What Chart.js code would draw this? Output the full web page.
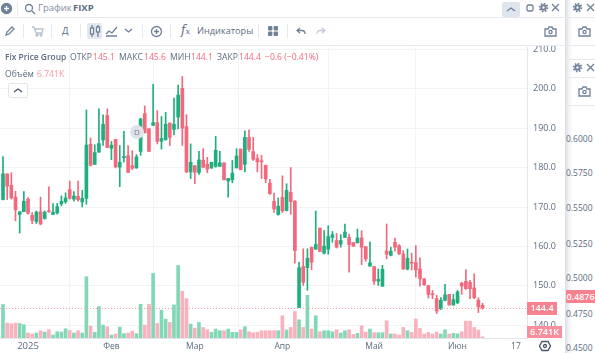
<!DOCTYPE html>
<html>
<head>
<meta charset="utf-8">
<script src="https://cdn.jsdelivr.net/npm/chart.js@4"></script>
<style>
  html, body { margin: 0; padding: 0; background: #fff; }
  body { width: 595px; height: 353px; overflow: hidden; position: relative; font-family: "Open Sans", sans-serif; color: #5c6b7f; }
  #myChart { position: absolute; left: 0; top: 0; }
  .t { position: absolute; white-space: nowrap; font-size: 8.6px; line-height: 12px; }
  .bar { position: absolute; background: #fff; left: 0; width: 565px; }
  .line { position: absolute; background: #e6e9ef; }
  svg { position: absolute; fill: none; stroke: #6f8198; stroke-width: 1.3; }
  .r { color: #f0697c; }
  #back { position: absolute; left: 565px; top: 0; width: 30px; height: 353px; background: linear-gradient(90deg, #d9dde3 0, #f3f4f6 4px, #fff 8px); }
</style>
</head>
<body>
<canvas id="myChart" width="565" height="353"></canvas>

<div id="back"></div>
<div class="line" style="left:565px;top:17px;width:30px;height:1px"></div>
<div class="line" style="left:565px;top:45px;width:30px;height:1px"></div>
<div class="line" style="left:565px;top:59px;width:30px;height:1px"></div>
<div class="line" style="left:565px;top:77px;width:30px;height:1px"></div>
<div class="line" style="left:565px;top:105px;width:30px;height:1px"></div>

<div class="bar" style="top:0;height:45px"></div>
<div class="line" style="left:0;top:17px;width:565px;height:1px"></div>
<div class="line" style="left:0;top:45px;width:565px;height:1px"></div>
<div class="line" style="left:17px;top:1px;width:1px;height:15px"></div>
<div class="line" style="left:23px;top:24px;width:1px;height:14px"></div>
<div class="line" style="left:51px;top:24px;width:1px;height:14px"></div>
<div class="line" style="left:80px;top:24px;width:1px;height:14px"></div>
<div class="line" style="left:142px;top:24px;width:1px;height:14px"></div>
<div class="line" style="left:170px;top:24px;width:1px;height:14px"></div>
<div class="line" style="left:258px;top:24px;width:1px;height:14px"></div>
<div class="line" style="left:287px;top:24px;width:1px;height:14px"></div>
<div style="position:absolute;left:87px;top:23px;width:15px;height:16px;background:#e4e9f1;border-radius:2px"></div>
<div style="position:absolute;left:502px;top:2px;width:18px;height:15px;background:#dfe5ee;border-radius:2px"></div>

<div class="t" style="left:38px;top:2px;font-size:9.5px;color:#7f8ea3">График</div>
<div class="t" style="left:73px;top:2px;font-size:9.5px;font-weight:700">FIXP</div>
<div class="t" style="left:62px;top:25px;font-size:9.5px">Д</div>
<div class="t" style="left:197px;top:25px;font-size:9.2px">Индикаторы</div>
<div class="t" style="left:181px;top:24px;font-size:12px;font-style:italic;font-family:'DejaVu Serif',serif">f<span style="font-size:8px">x</span></div>

<svg style="left:0;top:2px" width="13" height="13" viewBox="0 0 13 13"><circle cx="6.5" cy="6.5" r="5" fill="#6f8198"/><path d="M6.5 4v5M4 6.5h5" stroke="#fff"/></svg>
<svg style="left:24px;top:3px" width="12" height="12" viewBox="0 0 12 12"><circle cx="5" cy="5" r="3.5"/><path d="M8 8l3 3"/></svg>
<svg style="left:4px;top:25px" width="12" height="12" viewBox="0 0 12 12"><path d="M2 10l1-3 5-5 2 2-5 5z"/></svg>
<svg style="left:31px;top:25px" width="13" height="12" viewBox="0 0 13 12"><path d="M1 2h2l2 6h6l1-4H4" stroke="#b8c3d0"/><circle cx="6" cy="10" r="1" stroke="#b8c3d0"/><circle cx="10" cy="10" r="1" stroke="#b8c3d0"/></svg>
<svg style="left:89px;top:24px" width="12" height="14" viewBox="0 0 12 14"><path d="M3 1v12M9 1v12"/><rect x="1.5" y="4" width="3" height="6" fill="#fff"/><rect x="7.5" y="3" width="3" height="5" fill="#fff"/></svg>
<svg style="left:105px;top:25px" width="13" height="12" viewBox="0 0 13 12"><path d="M1 9l3-3 3 2 5-6M1 11h11"/></svg>
<svg style="left:124px;top:28px" width="9" height="6" viewBox="0 0 9 6"><path d="M1 1l3.5 3L8 1"/></svg>
<svg style="left:150px;top:25px" width="13" height="13" viewBox="0 0 13 13"><circle cx="6.5" cy="6.5" r="5"/><path d="M6.5 4v5M4 6.5h5"/></svg>
<svg style="left:267px;top:25px" width="12" height="12" viewBox="0 0 12 12"><g fill="#6f8198" stroke="none"><rect x="1" y="1" width="4.4" height="4.4" rx="1"/><rect x="6.6" y="1" width="4.4" height="4.4" rx="1"/><rect x="1" y="6.6" width="4.4" height="4.4" rx="1"/><rect x="6.6" y="6.6" width="4.4" height="4.4" rx="1"/></g></svg>
<svg style="left:296px;top:27px" width="10" height="8" viewBox="0 0 10 8"><path d="M4 1L1 3.5 4 6M1 3.5h5q3 0 3 3.5"/></svg>
<svg style="left:316px;top:27px" width="10" height="8" viewBox="0 0 10 8"><path d="M6 1l3 2.5L6 6M9 3.5H4Q1 3.5 1 7" stroke="#c2ccd8"/></svg>
<svg style="left:506px;top:6px" width="10" height="7" viewBox="0 0 10 7"><path d="M1 5l4-3 4 3"/></svg>
<svg style="left:526px;top:4px" width="8" height="8" viewBox="0 0 8 8"><rect x="1" y="1" width="6" height="6" rx="1.5"/></svg>

<div id="icons"></div>

<div class="t" style="left:5px;top:51px;font-weight:600;font-size:8.4px">Fix Price Group</div>
<div class="t" style="left:70px;top:51px">ОТКР</div><div class="t r" style="left:93px;top:51px">145.1</div>
<div class="t" style="left:119px;top:51px">МАКС</div><div class="t r" style="left:144px;top:51px">145.6</div>
<div class="t" style="left:170px;top:51px">МИН</div><div class="t r" style="left:191px;top:51px">144.1</div>
<div class="t" style="left:217px;top:51px">ЗАКР</div><div class="t r" style="left:239px;top:51px">144.4</div>
<div class="t r" style="left:265px;top:51px">−0.6 (−0.41%)</div>
<div class="t" style="left:5px;top:68px">Объём</div><div class="t" style="left:37px;top:68px;color:#f59aa6">6.741K</div>
<div style="position:absolute;left:8px;top:83px;width:18px;height:13px;border:1px solid #e3e6ec;border-radius:2px;background:#fff"></div>
<svg style="left:13px;top:87px" width="10" height="6" viewBox="0 0 10 6"><path d="M1 5l4-3 4 3" stroke="#4a5568"/></svg>
<div style="position:absolute;left:130px;top:125px;width:14px;height:14px;border-radius:7px;background:#dfe3e9;font-size:8px;line-height:14px;text-align:center;color:#6f7d8f">D</div>

<div id="side"></div>
<div style="position:absolute;left:566px;top:290px;width:29px;height:13px;background:#f7828f;color:#fff;font-size:9px;line-height:13px;font-weight:600;text-align:center">0.4876</div>
<svg style="left:539px;top:340px" width="12" height="12" viewBox="0 0 12 12"><path d="M3 1.5h6L11.5 6 9 10.5H3L.5 6z" stroke="#4a5568"/><circle cx="6" cy="6" r="1.5" stroke="#4a5568"/></svg>

<script>
const opens = [171.9,178.4,175.5,172.5,168.1,168.8,172.0,167.9,166.3,168.8,
  167.1,169.0,168.1,168.5,170.8,171.3,174.4,172.0,172.7,171.3,
  172.2,185.9,180.8,183.9,187.0,193.2,184.9,187.15,180.1,182.5,
  183.0,180.5,179.9,184.1,193.7,189.85,190.7,191.4,186.65,187.1,
  191.3,189.7,192.8,200.1,190.4,178.9,180.5,178.75,181.85,180.85,
  179.85,180.3,180.3,181.2,176.6,176.9,179.9,184.7,180.8,187.65,
  184.05,182.3,181.6,180.6,176.05,171.45,168.1,172.45,169.1,173.7,
  171.5,144.5,154.9,154.6,159.8,159.3,164.65,158.3,159.3,162.3,
  161.5,160.6,162.3,162.3,161.05,160.9,162.15,159.95,155.0,154.9,
  151.2,149.9,158.85,157.75,161.05,160.2,158.1,154.25,155.9,155.9,
  154.3,151.8,150.1,147.95,146.75,144.15,146.35,147.85,145.15,145.7,
  150.7,151.15,150.9,149.45,146.35,145.1];
const closes = [178.4,175.3,172.3,169.3,168.8,171.45,168.4,166.6,168.7,165.7,
  168.7,168.8,168.7,170.1,171.45,172.3,172.2,172.8,171.8,172.2,
  185.7,180.6,183.8,186.1,191.0,185.1,185.7,180.2,181.35,182.8,
  178.8,179.85,182.7,192.3,188.85,184.1,191.4,186.65,187.4,191.0,
  187.65,191.0,198.4,190.0,178.9,181.35,178.8,181.95,180.1,179.6,
  181.35,184.4,181.2,176.9,177.25,178.6,182.95,179.45,187.65,184.6,
  182.1,181.45,181.45,177.1,173.4,169.5,170.2,169.0,174.2,171.35,
  158.95,154.6,150.9,157.0,156.0,160.5,158.7,160.1,162.5,163.0,
  159.8,161.5,163.65,160.45,160.05,162.15,159.8,156.85,155.85,151.2,
  151.7,154.2,158.0,158.8,159.8,158.1,154.3,157.0,155.75,154.05,
  151.8,150.3,147.85,147.75,143.65,146.35,147.7,145.15,146.5,148.45,
  149.95,149.3,149.3,147.0,144.65,144.4];
const highs = [182.8,178.4,178.7,174.0,168.8,173.9,172.4,168.6,169.0,172.5,
  169.0,175.1,170.9,170.9,172.8,173.6,176.6,173.9,176.6,174.2,
  194.6,187.5,185.8,194.9,193.4,194.9,186.6,187.15,185.6,189.2,
  185.6,184.3,183.3,192.5,195.6,189.85,201.1,194.45,192.95,194.0,
  191.3,197.6,200.9,203.1,193.4,186.0,180.5,184.1,184.8,182.6,
  181.35,187.9,184.1,181.2,177.25,181.8,184.8,184.7,189.35,189.6,
  187.65,183.3,183.1,180.6,177.0,173.55,172.3,177.9,175.9,180.0,
  171.6,156.0,159.4,159.4,159.8,169.0,164.65,164.0,165.25,163.8,
  163.3,163.0,165.7,163.15,161.05,164.4,164.0,159.95,161.2,154.9,
  154.3,155.2,165.7,159.8,162.1,160.45,158.95,159.35,158.3,160.2,
  157.1,151.8,150.1,148.85,147.6,147.0,150.4,147.85,147.85,148.85,
  150.95,154.15,151.4,153.05,147.0,145.6];
const lows = [171.8,171.9,172.0,166.5,163.4,168.8,168.2,165.8,165.8,165.5,
  166.9,168.6,168.1,168.2,170.3,170.9,172.0,171.5,171.5,170.0,
  170.7,180.35,180.8,183.9,185.6,185.1,182.0,179.9,175.15,181.4,
  178.7,179.5,179.8,183.1,188.75,184.1,190.7,186.0,184.7,186.9,
  185.6,188.3,189.8,185.6,178.7,177.2,175.9,178.25,179.9,178.7,
  179.85,180.1,180.3,176.9,172.5,176.15,179.9,179.45,178.9,184.1,
  181.8,178.9,177.2,176.15,173.2,168.6,167.9,168.6,169.0,168.2,
  155.75,144.5,150.1,148.9,154.1,159.3,158.7,158.1,158.0,161.05,
  159.6,159.8,162.3,153.5,160.05,160.9,155.4,156.25,155.0,150.4,
  150.1,149.9,156.85,157.6,158.8,157.95,154.15,154.05,154.05,152.2,
  149.9,150.1,146.9,146.75,143.0,144.0,146.2,145.15,145.1,145.5,
  147.85,149.1,146.75,146.75,143.25,144.1];
// thousands of shares
const volumes = [202,90,86,90,88,80,30,24,30,44,
  36,50,18,38,36,56,46,30,44,30,
  370,72,34,190,78,68,18,24,66,26,
  30,42,26,204,78,204,390,88,168,114,
  94,200,438,282,238,84,60,94,64,50,
  34,54,44,44,54,34,34,50,68,38,
  32,34,44,44,44,44,44,134,48,64,
  160,110,64,258,54,134,38,44,44,38,
  50,30,44,50,22,28,74,36,54,32,
  32,32,104,24,24,18,64,44,34,114,
  58,24,34,24,36,24,50,24,28,26,
  38,102,102,64,48,6.741];

const priceTicks = [140,150,160,170,180,190,200,210];
const dateTicks = [6,26,46,67,89,109,123];
const dateLabels = ['2025','Фев','Мар','Апр','Май','Июн','17'];
const sideTicks = [['0.6000',139],['0.5750',173],['0.5500',208],['0.5250',244],['0.5000',278],['0.4750',314],['0.4500',348]];

const GREEN = '#1fae7e', RED = '#f2697d';
const GREEN_V = '#82d8b6', RED_V = '#f9b2bd';
const isUp = opens.map((o, i) => closes[i] >= o);
const idx = opens.map((_, i) => i);

// icons and tick labels of the panels behind
const gear = (x, y) => `<svg style="left:${x}px;top:${y}px" width="11" height="11" viewBox="0 0 11 11"><circle cx="5.5" cy="5.5" r="2.2" stroke-width="2"/><circle cx="5.5" cy="5.5" r="4" stroke-dasharray="1.6 1.5" stroke-width="1.6"/></svg>`;
const cross = (x, y) => `<svg style="left:${x}px;top:${y}px" width="9" height="9" viewBox="0 0 9 9"><path d="M1 1l7 7M8 1L1 8"/></svg>`;
const camera = (x, y) => `<svg style="left:${x}px;top:${y}px" width="13" height="11" viewBox="0 0 13 11"><path d="M1 3h3l1-2h3l1 2h3v7H1z"/><circle cx="6.5" cy="6" r="1.6"/></svg>`;
document.getElementById('icons').innerHTML =
  gear(538, 2) + cross(551, 3) + camera(544, 26) +
  gear(572, 2) + cross(586, 3) + camera(578, 26) +
  gear(572, 62) + cross(586, 63) + camera(578, 86);
document.getElementById('side').innerHTML = sideTicks
  .map(([s, y]) => `<div class="t" style="left:566px;top:${y - 6}px;font-size:8.5px">${s}</div>`).join('');

const priceMarks = {
  id: 'priceMarks',
  afterDatasetsDraw(chart) {
    const { ctx, chartArea, scales } = chart;
    const y = Math.round(scales.y.getPixelForValue(closes[closes.length - 1])) + 0.5;
    ctx.save();
    ctx.strokeStyle = '#f59aa6';
    ctx.lineWidth = 1;
    ctx.setLineDash([1, 2]);
    ctx.beginPath();
    ctx.moveTo(chartArea.left, y);
    ctx.lineTo(chartArea.right, y);
    ctx.stroke();
    ctx.restore();
  },
  afterDraw(chart) {
    const { ctx, chartArea, scales } = chart;
    const y = scales.y.getPixelForValue(closes[closes.length - 1]);
    const tag = (text, top, w, h, color) => {
      ctx.fillStyle = color;
      ctx.fillRect(chartArea.right, top, w, h);
      ctx.fillStyle = '#fff';
      ctx.font = '600 9px "Open Sans"';
      ctx.textAlign = 'center';
      ctx.textBaseline = 'middle';
      ctx.fillText(text, chartArea.right + w / 2, top + h / 2);
    };
    ctx.save();
    tag(closes[closes.length - 1].toFixed(1), y - 6, 30, 13, '#f7828f');
    tag('6.741K', 326, 35, 12, '#f88f9c');
    ctx.restore();
  },
};

new Chart(document.getElementById('myChart'), {
  type: 'bar',
  data: {
    datasets: [
      {
        label: 'Объём',
        data: idx.map(i => ({ x: i, y: volumes[i] })),
        yAxisID: 'v',
        barThickness: 3,
        grouped: false,
        order: 3,
        backgroundColor: isUp.map(u => u ? GREEN_V : RED_V),
      },
      {
        label: 'wick',
        data: idx.map(i => ({ x: i, y: [lows[i], highs[i]] })),
        barThickness: 1,
        grouped: false,
        order: 2,
        backgroundColor: isUp.map(u => u ? GREEN : RED),
      },
      {
        label: 'body',
        data: idx.map(i => ({ x: i, y: [Math.min(opens[i], closes[i]), Math.max(opens[i], closes[i])] })),
        barThickness: 3,
        minBarLength: 1,
        grouped: false,
        order: 1,
        backgroundColor: isUp.map(u => u ? GREEN : RED),
      },
    ],
  },
  plugins: [priceMarks],
  options: {
    responsive: false,
    animation: false,
    layout: { padding: { top: 47, left: 0, right: 0, bottom: 0 } },
    plugins: { legend: { display: false }, tooltip: { enabled: false } },
    scales: {
      x: {
        type: 'linear',
        min: -0.72,
        max: 125.66,
        offset: false,
        afterBuildTicks(scale) { scale.ticks = dateTicks.map(v => ({ value: v })); },
        afterFit(scale) { scale.height = 15; },
        grid: {
          color: c => (c.tick && c.tick.value === 123 ? 'transparent' : '#f1f3f7'),
          drawTicks: false,
        },
        border: { color: '#e3e6ec' },
        ticks: {
          autoSkip: false,
          maxRotation: 0,
          padding: 3,
          color: '#5c6b7f',
          font: c => ({ family: '"Open Sans"', size: c.tick && c.tick.value === 6 ? 9.5 : 8.5 }),
          callback: v => dateLabels[dateTicks.indexOf(v)],
        },
      },
      y: {
        position: 'right',
        min: 136.78,
        max: 210.58,
        afterBuildTicks(scale) { scale.ticks = priceTicks.map(v => ({ value: v })); },
        afterFit(scale) { scale.width = 38; },
        grid: { color: '#f1f3f7', drawTicks: false },
        border: { color: '#e3e6ec' },
        ticks: {
          padding: 6,
          color: '#5c6b7f',
          font: { family: '"Open Sans"', size: 9 },
          callback: v => v.toFixed(1),
        },
      },
      v: {
        display: false,
        min: 0,
        max: 1758,
      },
    },
  },
});
</script>
</body>
</html>
